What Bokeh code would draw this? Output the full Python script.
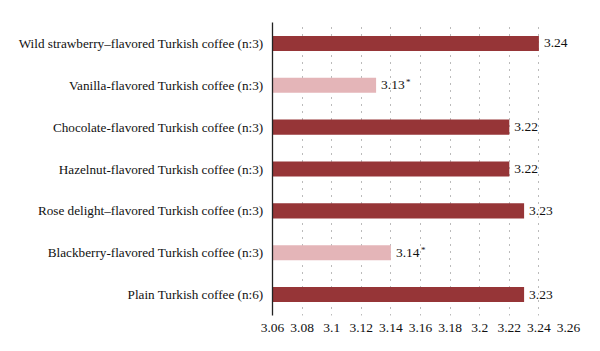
from bokeh.plotting import figure
from bokeh.models import ColumnDataSource, Range1d, FactorRange, FixedTicker
from bokeh.core.properties import value
from bokeh.embed import file_html
from bokeh.resources import INLINE

categories = [
    "Wild strawberry\u2013flavored Turkish coffee (n:3)",
    "Vanilla-flavored Turkish coffee (n:3)",
    "Chocolate-flavored Turkish coffee (n:3)",
    "Hazelnut-flavored Turkish coffee (n:3)",
    "Rose delight\u2013flavored Turkish coffee (n:3)",
    "Blackberry-flavored Turkish coffee (n:3)",
    "Plain Turkish coffee (n:6)",
]
values = [3.24, 3.13, 3.22, 3.22, 3.23, 3.14, 3.23]
significant = [False, True, False, False, False, True, False]
ticks = [3.06, 3.08, 3.10, 3.12, 3.14, 3.16, 3.18, 3.20, 3.22, 3.24, 3.26]
tick_labels = ["3.06", "3.08", "3.1", "3.12", "3.14", "3.16", "3.18", "3.2", "3.22", "3.24", "3.26"]

DARK = "#963537"
LIGHT = "#e4b5b8"
FONT = "Liberation Serif"

src = ColumnDataSource(dict(
    cat=categories,
    val=values,
    left=[ticks[0]] * len(values),
    color=[LIGHT if s else DARK for s in significant],
    label=[f"{v:.2f}" for v in values],
))
sig_src = ColumnDataSource(dict(
    cat=[c for c, s in zip(categories, significant) if s],
    val=[v for v, s in zip(values, significant) if s],
    star=["*" for s in significant if s],
))

p = figure(
    y_range=FactorRange(factors=list(reversed(categories)), range_padding=0),
    x_range=Range1d(ticks[0], ticks[-1]),
    frame_width=296, frame_height=293,
    min_border_left=272, min_border_right=32, min_border_top=22, min_border_bottom=36,
    output_backend="svg", toolbar_location=None,
)
p.outline_line_color = None
p.background_fill_color = "white"

p.hbar(y="cat", left="left", right="val", height=0.36, fill_color="color",
       line_color=None, source=src)
p.text(x="val", y="cat", text="label", source=src, x_offset=5,
       text_baseline="middle", text_align="left",
       text_font=value(FONT), text_font_size="13.5px", text_color="#111111")
p.text(x="val", y="cat", text="star", source=sig_src, x_offset=30, y_offset=-3,
       text_baseline="middle", text_align="left",
       text_font=value(FONT), text_font_size="9px", text_color="#111111")

p.ygrid.grid_line_color = None
p.xgrid.ticker = FixedTicker(ticks=ticks[1:])
p.xgrid.grid_line_color = "#777777"
p.xgrid.grid_line_dash = "1 6"
p.xgrid.grid_line_width = 1

p.xaxis.ticker = FixedTicker(ticks=ticks)
p.xaxis.major_label_overrides = {t: l for t, l in zip(ticks, tick_labels)}
p.xaxis.axis_line_color = None
p.xaxis.major_tick_line_color = None
p.xaxis.minor_tick_line_color = None
p.xaxis.major_label_standoff = 2
p.xaxis.major_label_text_font = FONT
p.xaxis.major_label_text_font_size = "13.5px"
p.xaxis.major_label_text_color = "#111111"

p.yaxis.axis_line_color = "#222222"
p.yaxis.axis_line_width = 1.3
p.yaxis.major_tick_line_color = None
p.yaxis.minor_tick_line_color = None
p.yaxis.major_label_standoff = 3
p.yaxis.major_label_text_font = FONT
p.yaxis.major_label_text_font_size = "13.2px"
p.yaxis.major_label_text_color = "#111111"

open("out.html", "w").write(file_html(p, INLINE))
